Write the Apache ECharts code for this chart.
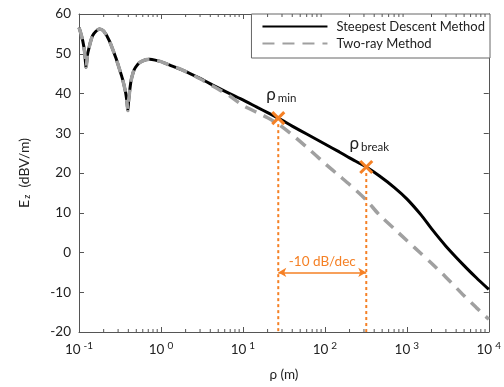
<!DOCTYPE html>
<html>
<head>
<meta charset="utf-8">
<script src="https://cdn.jsdelivr.net/npm/echarts@6/dist/echarts.min.js"></script>
<style>
  html, body { margin: 0; padding: 0; background: #fff; }
  #chart { width: 504px; height: 387px; }
</style>
</head>
<body>
<div id="chart"></div>
<script>
// ===== data =====
const rho = [0.1, 0.105, 0.111, 0.117, 0.122, 0.127, 0.133, 0.14, 0.147, 0.16, 0.177, 0.2, 0.234, 0.28, 0.31,
  0.34, 0.37, 0.385, 0.394, 0.405, 0.43, 0.46, 0.49, 0.55, 0.65, 0.73, 0.85, 1, 1.3, 1.84, 3, 4.8, 7, 10, 15,
  20, 27, 40, 60, 100, 150, 200, 320, 460, 700, 1000, 1500, 2000, 3000, 5000, 7000, 10000]

const steepest = [56.6, 55.2, 53.3, 50.5, 46.6, 49.8, 51.6, 53.4, 54.6, 55.6, 56.2, 55.7, 53.3, 49.1, 46.3,
  43.6, 40.3, 37.8, 35.7, 38.6, 43.0, 45.4, 46.6, 47.8, 48.5, 48.6, 48.4, 48.0, 47.1, 45.9, 43.8, 41.6, 39.9, 38.4, 36.5,
  35.2, 33.8, 31.8, 29.8, 27.3, 25.3, 23.8, 21.5, 19.3, 16.4, 13.5, 9.4, 6.0, 1.6, -3.3, -6.3, -9.3]

const twoRay = [56.6, 55.2, 53.3, 50.5, 46.6, 49.8, 51.6, 53.4, 54.6, 55.6, 56.2, 55.7, 53.3, 49.1, 46.3,
  43.6, 40.3, 37.8, 35.7, 38.6, 43.0, 45.4, 46.6, 47.8, 48.5, 48.6, 48.4, 48.0, 47.1, 45.9, 43.7, 41.3, 39.3, 37.0, 35.2,
  33.9, 32.3, 29.6, 26.5, 22.4, 19.3, 17.1, 13.2, 9.5, 6.0, 3.0, -0.3, -2.7, -6.2, -10.9, -13.8, -16.8]

// minor tick positions on the log axis
const minorRho = [0.2, 0.3, 0.4, 0.5, 0.6, 0.7, 0.8, 0.9, 2, 3, 4, 5, 6, 7, 8, 9,
  20, 30, 40, 50, 60, 70, 80, 90, 200, 300, 400, 500, 600, 700, 800, 900,
  2000, 3000, 4000, 5000, 6000, 7000, 8000, 9000]

// markers (ρ_min, ρ_break)
const markerRho = [27, 320]
const markerEz = [33.8, 21.5]
const markerSub = ['min', 'break']
const slopeLabel = '-10 dB/dec'
const slopeEz = -5

const seriesNames = ['Steepest Descent Method', 'Two-ray Method']

// ===== style =====
const FONT = 'Lato'
const AXIS = '#555'
const ORANGE = '#f58025'
const GRAY = '#a0a0a0'
const yMin = -20, yMax = 60

const chart = echarts.init(document.getElementById('chart'))

const supRich = { sup: { fontSize: 10, fontFamily: FONT, color: '#222', padding: [0, 0, 8, 3] } }

chart.setOption({
  animation: false,
  textStyle: { fontFamily: FONT },
  grid: { left: 79, right: 14, top: 14, bottom: 55 },
  legend: {
    data: seriesNames,
    orient: 'vertical',
    right: 14,
    top: 14,
    backgroundColor: '#fff',
    borderColor: '#666',
    borderWidth: 1,
    padding: [6, 5, 8, 10],
    itemWidth: 65,
    itemHeight: 14,
    itemGap: 4,
    itemStyle: { opacity: 0 },
    textStyle: { fontSize: 13, color: '#222', fontFamily: FONT, padding: [0, 0, 0, 4] },
  },
  xAxis: [
    {
      type: 'log', logBase: 10, min: 0.1, max: 10000,
      name: 'ρ (m)', nameLocation: 'middle', nameGap: 36, nameMoveOverlap: false,
      nameTextStyle: { fontSize: 13.5, color: '#222', fontFamily: FONT },
      axisLine: { onZero: false, lineStyle: { color: AXIS } },
      axisTick: { inside: true, length: 5, lineStyle: { color: AXIS } },
      splitLine: { show: false },
      axisLabel: {
        fontSize: 13.5, color: '#222', margin: 9,
        formatter: (v) => '10{sup|' + Math.round(Math.log10(v)) + '}',
        rich: supRich,
      },
    },
    {
      type: 'log', logBase: 10, min: 0.1, max: 10000, position: 'top',
      axisLine: { onZero: false, lineStyle: { color: AXIS } },
      axisTick: { inside: true, length: 5, lineStyle: { color: AXIS } },
      axisLabel: { show: false },
      splitLine: { show: false },
    },
  ],
  yAxis: [
    {
      type: 'value', min: yMin, max: yMax, interval: 10,
      name: 'E{sub|z}  (dBV/m)', nameLocation: 'middle', nameGap: 47, nameRotate: 90, nameMoveOverlap: false,
      nameTextStyle: {
        fontSize: 14, color: '#222', fontFamily: FONT,
        rich: { sub: { fontSize: 9, fontFamily: FONT, color: '#222', padding: [7, 0, 0, 1] } },
      },
      axisLine: { show: true, onZero: false, lineStyle: { color: AXIS } },
      axisTick: { show: true, inside: true, length: 5, lineStyle: { color: AXIS } },
      axisLabel: { fontSize: 13.5, color: '#222', margin: 8 },
      splitLine: { show: false },
    },
    {
      type: 'value', min: yMin, max: yMax, interval: 10, position: 'right',
      axisLine: { show: true, onZero: false, lineStyle: { color: AXIS } },
      axisTick: { show: true, inside: true, length: 5, lineStyle: { color: AXIS } },
      axisLabel: { show: false },
      splitLine: { show: false },
    },
  ],
  series: [
    {
      name: seriesNames[0],
      type: 'line',
      data: rho.map((r, i) => [r, steepest[i]]),
      smooth: 0.25,
      symbol: 'none',
      lineStyle: { color: '#000', width: 3 },
      itemStyle: { color: '#000' },
      z: 3,
    },
    {
      name: seriesNames[1],
      type: 'line',
      data: rho.map((r, i) => [r, twoRay[i]]),
      smooth: 0.25,
      symbol: 'none',
      lineStyle: { color: GRAY, width: 3.5, type: [12, 8] },
      itemStyle: { color: GRAY },
      z: 4,
      markLine: {
        silent: true,
        symbol: ['arrow', 'arrow'],
        symbolSize: [7, 8],
        lineStyle: { color: ORANGE, width: 1.5, type: 'solid' },
        label: {
          show: true, position: 'middle', formatter: slopeLabel,
          color: ORANGE, fontSize: 13.5, fontFamily: FONT, distance: 4,
        },
        data: [[{ coord: [markerRho[0], slopeEz] }, { coord: [markerRho[1], slopeEz] }]],
      },
    },
    {
      // minor ticks on bottom and top frame
      type: 'custom',
      silent: true,
      data: minorRho.map((r) => [r, yMin]),
      encode: { x: 0, y: 1 },
      z: 5,
      renderItem: (params, api) => {
        const b = api.coord([api.value(0), yMin])
        const t = api.coord([api.value(0), yMax])
        return {
          type: 'group',
          children: [
            { type: 'line', shape: { x1: b[0], y1: b[1], x2: b[0], y2: b[1] - 3 }, style: { stroke: AXIS, lineWidth: 1 } },
            { type: 'line', shape: { x1: t[0], y1: t[1], x2: t[0], y2: t[1] + 3 }, style: { stroke: AXIS, lineWidth: 1 } },
          ],
        }
      },
    },
    {
      // ρ_min / ρ_break markers with dotted drop lines
      type: 'custom',
      silent: true,
      data: markerRho.map((r, i) => [r, markerEz[i], i]),
      encode: { x: 0, y: 1 },
      z: 6,
      renderItem: (params, api) => {
        const p = api.coord([api.value(0), api.value(1)])
        const b = api.coord([api.value(0), yMin])
        const s = 6
        const idx = api.value(2)
        return {
          type: 'group',
          children: [
            { type: 'line', shape: { x1: p[0], y1: p[1] + s, x2: b[0], y2: b[1] },
              style: { stroke: ORANGE, lineWidth: 2, lineDash: [3, 3] } },
            { type: 'line', shape: { x1: p[0] - s, y1: p[1] - s, x2: p[0] + s, y2: p[1] + s },
              style: { stroke: ORANGE, lineWidth: 3 } },
            { type: 'line', shape: { x1: p[0] - s, y1: p[1] + s, x2: p[0] + s, y2: p[1] - s },
              style: { stroke: ORANGE, lineWidth: 3 } },
            { type: 'text', x: p[0] + 3, y: p[1] - 14,
              style: {
                text: 'ρ{sub|' + markerSub[idx] + '}',
                fontSize: 17, fontFamily: FONT, fill: '#222',
                align: 'center', verticalAlign: 'bottom',
                rich: { sub: { fontSize: 11.5, fontFamily: FONT, fill: '#222', padding: [8, 0, 0, 2] } },
              } },
          ],
        }
      },
    },
  ],
})
</script>
</body>
</html>
